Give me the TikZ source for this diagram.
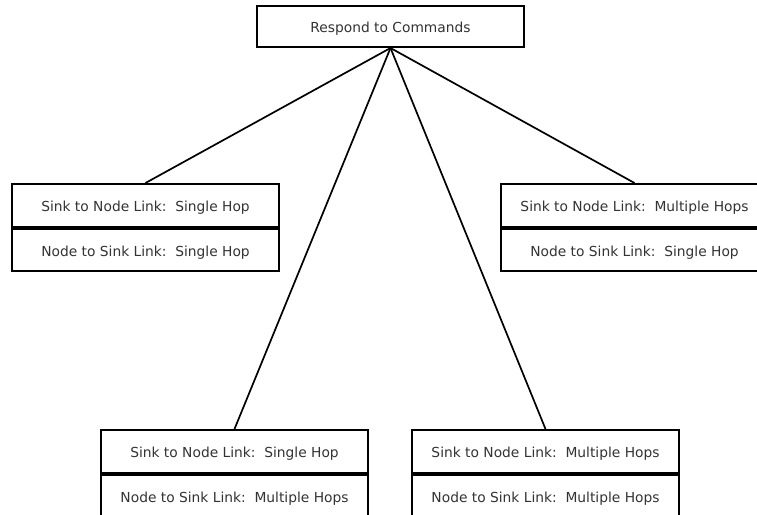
\documentclass[tikz,border=0pt]{standalone}
\usepackage{fontspec}
\setmainfont{DejaVu Sans}
\usetikzlibrary{positioning}

\begin{document}
\begin{tikzpicture}[
    x=1pt, y=-1pt,
    font=\fontsize{13.8}{16}\selectfont,
    box/.style={draw=black, line width=2pt, fill=white, text=black!80, inner sep=0pt,
                text height=12pt, text depth=0pt,
                minimum width=267pt, minimum height=43pt},
    lower/.style={box, minimum height=42pt},
    branch/.style={draw=black, line width=1.7pt}
]

% Page frame
\useasboundingbox (0,0) rectangle (757,514);

% Root node
\node[box, minimum height=41pt] (root) at (390.5,26.5) {Respond to Commands};

% Upper pair of cases
\node[box] (ss) at (145.5,205.5) {Sink to Node Link:~~Single Hop};
\node[lower, below=0pt of ss] (ssb) {Node to Sink Link:~~Single Hop};

\node[box] (ms) at (634.5,205.5) {Sink to Node Link:~~Multiple Hops};
\node[lower, below=0pt of ms] (msb) {Node to Sink Link:~~Single Hop};

% Lower pair of cases
\node[box] (sm) at (234.5,451.5) {Sink to Node Link:~~Single Hop};
\node[lower, below=0pt of sm] (smb) {Node to Sink Link:~~Multiple Hops};

\node[box] (mm) at (545.5,451.5) {Sink to Node Link:~~Multiple Hops};
\node[lower, below=0pt of mm] (mmb) {Node to Sink Link:~~Multiple Hops};

% Branches
\foreach \c in {ss,sm,mm,ms} {
    \draw[branch] (root.south) -- (\c.north);
}

\end{tikzpicture}
\end{document}
